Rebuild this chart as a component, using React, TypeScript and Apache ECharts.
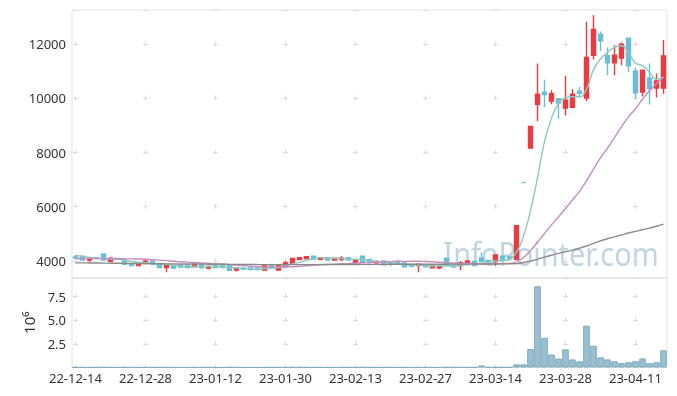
import React, { useEffect, useRef } from "react";
import * as echarts from "echarts";

const dates = [
  "22-12-14","22-12-15","22-12-16","22-12-19","22-12-20","22-12-21","22-12-22","22-12-23","22-12-26","22-12-27",
  "22-12-28","22-12-29","23-01-02","23-01-03","23-01-04","23-01-05","23-01-06","23-01-09","23-01-10","23-01-11",
  "23-01-12","23-01-13","23-01-16","23-01-17","23-01-18","23-01-19","23-01-20","23-01-25","23-01-26","23-01-27",
  "23-01-30","23-01-31","23-02-01","23-02-02","23-02-03","23-02-06","23-02-07","23-02-08","23-02-09","23-02-10",
  "23-02-13","23-02-14","23-02-15","23-02-16","23-02-17","23-02-20","23-02-21","23-02-22","23-02-23","23-02-24",
  "23-02-27","23-02-28","23-03-02","23-03-03","23-03-06","23-03-07","23-03-08","23-03-09","23-03-10","23-03-13",
  "23-03-14","23-03-15","23-03-16","23-03-17","23-03-20","23-03-21","23-03-22","23-03-23","23-03-24","23-03-27",
  "23-03-28","23-03-29","23-03-30","23-03-31","23-04-03","23-04-04","23-04-05","23-04-06","23-04-07","23-04-10",
  "23-04-11","23-04-12","23-04-13","23-04-14","23-04-17"
];

const opens = [
  4150,4170,4030,4110,4260,3990,4090,4030,3900,3830,
  3900,3990,3910,3760,3830,3850,3840,3780,3900,3740,
  3850,3840,3830,3660,3740,3740,3730,3660,3850,3660,
  3780,3900,4050,4090,4170,4060,4120,4030,4050,4120,
  3950,4170,4050,3930,4000,3950,3980,3930,3870,3830,
  3850,3750,3750,4100,3850,3830,3900,3980,4100,4020,
  3980,4170,4150,4060,6890,8170,9780,10230,9900,9990,
  9640,9670,10260,10010,11590,12370,11570,11310,11490,12220,
  11000,10230,10740,10380,10380
];
const closes = [
  4110,4030,4090,4090,4030,4090,4060,3880,3830,3910,
  3990,3880,3760,3830,3740,3770,3760,3880,3760,3800,
  3760,3760,3650,3730,3690,3680,3680,3830,3770,3830,
  3930,4090,4120,4160,4070,4120,4030,4100,4100,4030,
  4030,3950,3950,3980,3860,3880,3900,3780,3800,3880,
  3780,3830,3800,3830,3780,3930,4000,3830,3980,3970,
  4220,4050,4080,5300,6890,8960,10150,10140,10170,9830,
  9930,10150,10190,11510,12540,12120,11310,11590,12000,11200,
  10200,11040,10360,10640,11560
];
const lows = [
  4060,4020,3950,4050,3990,3960,4040,3870,3810,3820,
  3890,3870,3750,3580,3720,3760,3740,3770,3680,3690,
  3740,3740,3640,3610,3680,3670,3670,3650,3760,3650,
  3770,3890,4040,4080,4060,4050,4020,4020,4000,4020,
  3900,3940,3830,3900,3850,3800,3890,3770,3790,3580,
  3770,3740,3700,3820,3730,3650,3890,3820,3970,3960,
  3810,4040,4020,4060,6890,8170,9150,9680,9780,9250,
  9370,9670,10030,9890,11430,11750,10850,10850,11220,10970,
  9990,10070,9770,10030,10170
];
const highs = [
  4220,4180,4100,4140,4270,4150,4120,4040,3910,3920,
  4050,4000,3920,3850,3850,3860,3850,3890,3910,3830,
  3890,3850,3840,3770,3750,3750,3740,3840,3900,3840,
  3990,4100,4130,4170,4180,4130,4130,4110,4170,4130,
  4080,4180,4060,4020,4010,3960,3990,3940,3880,3890,
  3860,3840,3810,4110,3860,4000,4010,3990,4320,4030,
  4230,4180,4160,5300,6890,8960,11290,10690,10300,9990,
  10820,10340,10420,12830,13070,12470,11880,11960,12060,12220,
  11140,11040,11290,10920,12150
];

const volumes = [
  30000,25000,20000,18000,35000,22000,15000,28000,20000,16000,
  24000,18000,21000,30000,17000,15000,14000,22000,26000,18000,
  16000,15000,27000,20000,14000,13000,12000,22000,19000,21000,
  25000,32000,28000,24000,20000,18000,16000,19000,23000,17000,
  21000,30000,22000,15000,18000,20000,14000,19000,13000,26000,
  17000,15000,14000,35000,18000,24000,20000,16000,220000,30000,
  40000,28000,25000,330000,330000,1950000,8600000,3150000,1380000,950000,
  1920000,850000,650000,4420000,2300000,1080000,860000,660000,460000,560000,
  660000,960000,460000,560000,1820000
];

const ma5 = [
  4200,4170,4130,4100,4070,4066,4072,4030,3978,3954,
  3934,3898,3874,3874,3840,3796,3772,3796,3782,3794,
  3792,3792,3746,3740,3718,3702,3686,3722,3730,3758,
  3808,3890,3948,4026,4074,4112,4100,4096,4084,4076,
  4058,4042,4012,3988,3954,3924,3914,3880,3844,3848,
  3828,3814,3818,3824,3804,3834,3868,3874,3904,3942,
  4000,4010,4060,4324,4908,5856,7076,8400,9262,9800,
  10020,10060,10060,10340,11050,11450,11700,11880,11940,11680,
  11300,11210,10965,10700,10780
];
const ma20 = [
  4090,4090,4095,4095,4090,4090,4085,4080,4075,4070,
  4060,4045,4030,4010,3990,3970,3955,3940,3925,3915,
  3897,3884,3862,3844,3827,3806,3787,3785,3782,3778,
  3775,3785,3803,3820,3836,3854,3867,3878,3895,3907,
  3920,3930,3945,3957,3966,3976,3987,3984,3986,3988,
  3981,3968,3952,3935,3921,3911,3910,3896,3890,3887,
  3897,3902,3908,3974,4126,4380,4692,5010,5329,5626,
  5934,6250,6569,6953,7391,7801,8166,8554,8955,9317,
  9616,9965,10279,10546,10780
];
const maLong = [
  3930,3928,3925,3922,3920,3917,3914,3911,3908,3905,
  3902,3899,3896,3893,3890,3888,3886,3884,3882,3880,
  3878,3876,3874,3872,3870,3868,3866,3865,3864,3863,
  3862,3862,3862,3863,3864,3865,3866,3867,3868,3869,
  3870,3871,3872,3873,3874,3875,3876,3877,3878,3879,
  3880,3880,3880,3880,3881,3882,3883,3884,3885,3886,
  3888,3890,3893,3900,3940,3995,4060,4140,4210,4280,
  4340,4400,4470,4550,4650,4740,4820,4890,4960,5030,
  5090,5150,5210,5280,5360
];

const UP = "#ec3a3e";
const DOWN = "#68bfd6";
const GRID_LINE = "#dcdcdc";
const FONT = "Noto Sans";

export default function App() {
  const ref = useRef<HTMLDivElement>(null);
  useEffect(() => {
    if (!ref.current) return;
    const chart = echarts.init(ref.current, null, { renderer: "svg" });
    const candle = dates.map((_, i) => {
      const value = [opens[i], closes[i], lows[i], highs[i]];
      if (opens[i] === closes[i]) {
        return { value, itemStyle: { color: DOWN, borderColor: DOWN } };
      }
      return value;
    });
    const option: any = {
      animation: false,
      textStyle: { fontFamily: FONT },
      grid: [
        { left: 72, right: 10, top: 10, height: 268, show: true, borderColor: "#e3e3e3", borderWidth: 1 },
        { left: 72, right: 10, top: 278, height: 89.5, show: true, borderColor: "#e3e3e3", borderWidth: 1 },
      ],
      graphic: [
        {
          type: "text",
          x: 551,
          y: 253,
          scaleX: 0.875,
          z: -1,
          style: {
            text: "InfoPointer.com",
            fontFamily: FONT,
            fontSize: 33,
            fill: "#bfd5e1",
            textAlign: "center",
            textVerticalAlign: "middle",
          },
        },
      ],
      xAxis: [
        {
          type: "category",
          gridIndex: 0,
          data: dates,
          boundaryGap: true,
          axisLine: { show: false },
          axisTick: { show: false },
          axisLabel: { show: false },
          splitLine: {
            show: true,
            interval: 9,
            alignWithLabel: true,
            lineStyle: { color: GRID_LINE, width: 1, type: [5, 49.2], dashOffset: 22.56 },
          },
        },
        {
          type: "category",
          gridIndex: 1,
          data: dates,
          boundaryGap: true,
          axisLine: { show: false },
          axisTick: { show: false },
          axisLabel: { interval: 9, fontSize: 13, color: "#333", margin: 4, fontFamily: FONT },
          splitLine: {
            show: true,
            interval: 9,
            alignWithLabel: true,
            lineStyle: { color: GRID_LINE, width: 1, type: [5, 18.63], dashOffset: 7.53 },
          },
        },
      ],
      yAxis: [
        {
          type: "value",
          gridIndex: 0,
          min: 3370,
          max: 13260,
          splitNumber: 5,
          axisLine: { show: false },
          axisTick: { show: false },
          axisLabel: {
            fontSize: 13, color: "#333", margin: 6, showMinLabel: false, showMaxLabel: false, fontFamily: FONT,
            formatter: (v: number) => String(v),
          },
          splitLine: { show: true, lineStyle: { color: GRID_LINE, width: 1, type: [5, 65], dashOffset: 68.9 } },
        },
        {
          type: "value",
          gridIndex: 1,
          min: 0,
          max: 9470000,
          interval: 2500000,
          name: "10⁶",
          nameLocation: "middle",
          nameRotate: 90,
          nameGap: 31,
          nameTextStyle: { fontSize: 15, color: "#333", fontFamily: FONT },
          axisLine: { show: false },
          axisTick: { show: false },
          axisLabel: {
            fontSize: 13,
            color: "#333",
            margin: 6,
            showMinLabel: false,
            showMaxLabel: false,
            fontFamily: FONT,
            formatter: (v: number) => (v / 1e6).toFixed(1),
          },
          splitLine: { show: true, lineStyle: { color: GRID_LINE, width: 1, type: [5, 65], dashOffset: 68.9 } },
        },
      ],
      series: [
        {
          type: "candlestick",
          xAxisIndex: 0,
          yAxisIndex: 0,
          data: candle,
          barWidth: 4,
          itemStyle: { color: UP, color0: DOWN, borderColor: UP, borderColor0: DOWN, borderColorDoji: DOWN, borderWidth: 1.4 },
          z: 2,
        },
        {
          type: "line", name: "MA5", xAxisIndex: 0, yAxisIndex: 0, data: ma5, smooth: true, symbol: "none",
          lineStyle: { color: "#8ccabd", width: 1.4 }, z: 3,
        },
        {
          type: "line", name: "MA20", xAxisIndex: 0, yAxisIndex: 0, data: ma20, smooth: true, symbol: "none",
          lineStyle: { color: "#c98cc2", width: 1.4 }, z: 3,
        },
        {
          type: "line", name: "MA long", xAxisIndex: 0, yAxisIndex: 0, data: maLong, smooth: true, symbol: "none",
          lineStyle: { color: "#8a8a8a", width: 1.4 }, z: 3,
        },
        {
          type: "bar",
          xAxisIndex: 1,
          yAxisIndex: 1,
          data: volumes,
          barCategoryGap: "6%",
          itemStyle: { color: "#98c0d0", borderColor: "#7ea9bc", borderWidth: 1 },
        },
      ],
    };
    chart.setOption(option);
    return () => chart.dispose();
  }, []);
  return <div ref={ref} style={{ position: "fixed", left: 0, top: 0, width: 677, height: 396 }} />;
}
